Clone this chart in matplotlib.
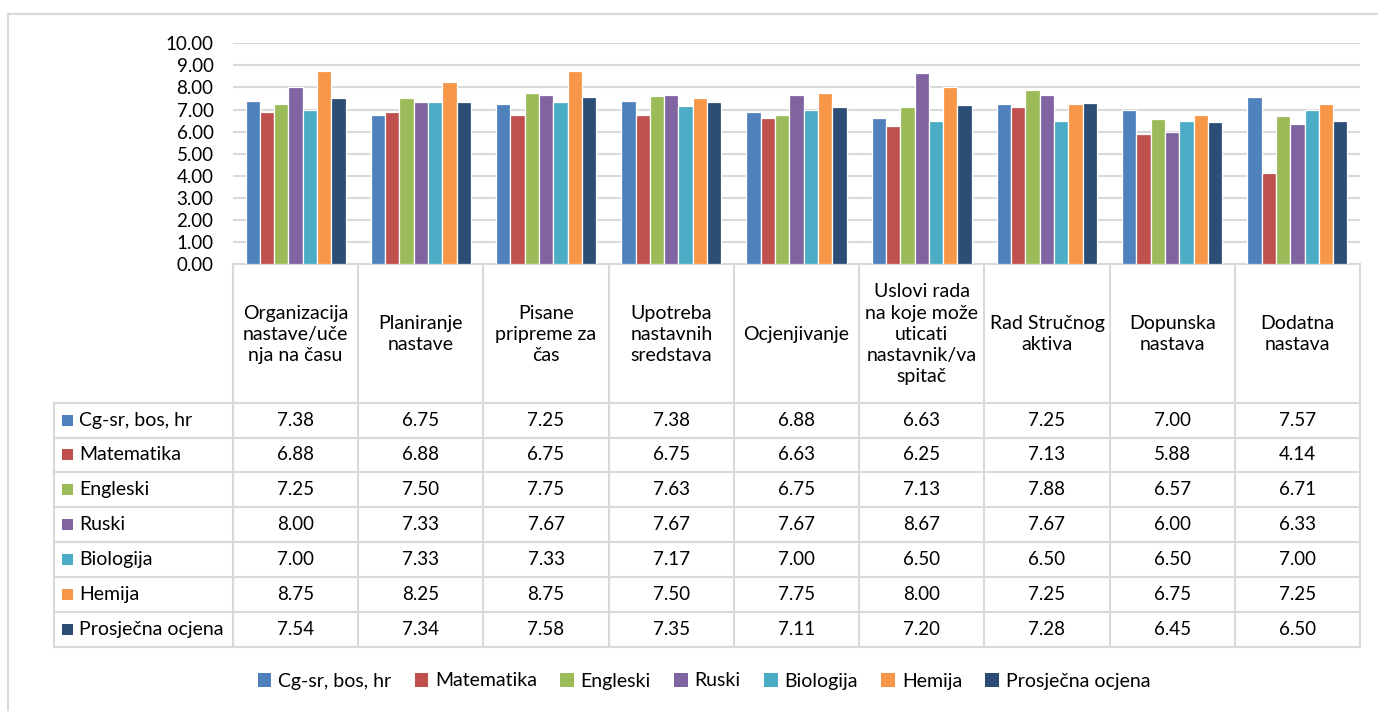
import matplotlib
matplotlib.use("Agg")
import matplotlib.pyplot as plt
import matplotlib.transforms as mtransforms
from matplotlib.patches import Rectangle
from matplotlib.lines import Line2D
import numpy as np

plt.rcParams['font.family'] = ['Lato', 'DejaVu Sans']

categories = [
    "Organizacija\nnastave/uče\nnja na času",
    "Planiranje\nnastave",
    "Pisane\npripreme za\nčas",
    "Upotreba\nnastavnih\nsredstava",
    "Ocjenjivanje",
    "Uslovi rada\nna koje može\nuticati\nnastavnik/va\nspitač",
    "Rad Stručnog\naktiva",
    "Dopunska\nnastava",
    "Dodatna\nnastava",
]
series_names = ["Cg-sr, bos, hr", "Matematika", "Engleski", "Ruski",
                "Biologija", "Hemija", "Prosječna ocjena"]
cg_sr = [7.38, 6.75, 7.25, 7.38, 6.88, 6.63, 7.25, 7.00, 7.57]
matematika = [6.88, 6.88, 6.75, 6.75, 6.63, 6.25, 7.13, 5.88, 4.14]
engleski = [7.25, 7.50, 7.75, 7.63, 6.75, 7.13, 7.88, 6.57, 6.71]
ruski = [8.00, 7.33, 7.67, 7.67, 7.67, 8.67, 7.67, 6.00, 6.33]
biologija = [7.00, 7.33, 7.33, 7.17, 7.00, 6.50, 6.50, 6.50, 7.00]
hemija = [8.75, 8.25, 8.75, 7.50, 7.75, 8.00, 7.25, 6.75, 7.25]
prosjek = [7.54, 7.34, 7.58, 7.35, 7.11, 7.20, 7.28, 6.45, 6.50]
series_values = [cg_sr, matematika, engleski, ruski, biologija, hemija, prosjek]
colors = ["#4F81BD", "#C0504D", "#9BBB59", "#8064A2", "#4BACC6", "#F79646", "#2C4D75"]
y_ticks = [0, 1, 2, 3, 4, 5, 6, 7, 8, 9, 10]

W, H = 1378, 711
fig = plt.figure(figsize=(W / 100, H / 100), dpi=100)
FS = 13.5    # numbers
FT = 14      # text labels
GRID = "#D9D9D9"

# overlay axes in pixel coordinates
ov = fig.add_axes([0, 0, 1, 1])
ov.set_xlim(0, W)
ov.set_ylim(H, 0)
ov.axis("off")

# bar axes
px_l, px_r, px_t, px_b = 233, 1360, 43.3, 264
ax = fig.add_axes([px_l / W, 1 - px_b / H, (px_r - px_l) / W, (px_b - px_t) / H])
n_cat = len(categories)
n_ser = len(series_names)
x = np.arange(n_cat)
bw = 0.8 / n_ser
for i, (vals, col) in enumerate(zip(series_values, colors)):
    ax.bar(x + (i - (n_ser - 1) / 2) * bw, vals, width=bw, color=col,
           edgecolor="white", linewidth=0.9, zorder=3)
ax.set_xlim(-0.5, n_cat - 0.5)
ax.set_ylim(0, 10)
ax.set_yticks(y_ticks)
ax.set_yticklabels([f"{v:.2f}" for v in y_ticks], fontsize=FS, color="#000000")
ax.set_xticks([])
ax.tick_params(axis="y", length=0, pad=14)
ax.grid(axis="y", color=GRID, linewidth=1.5, zorder=0)
for s in ["left", "right", "top"]:
    ax.spines[s].set_visible(False)
ax.spines["bottom"].set_color(GRID)
ax.spines["bottom"].set_linewidth(1.5)

# table
tr = mtransforms.blended_transform_factory(ax.transData, ov.transData)
header_top, header_bot = 264, 402.7
row_h = 34.85
rows_bot = header_bot + row_h * n_ser
tab_left = 54
lc = dict(color=GRID, linewidth=1.5)
for b in np.arange(-0.5, n_cat, 1.0):
    ov.add_line(Line2D([b, b], [header_top, rows_bot], transform=tr, **lc))
ov.add_line(Line2D([tab_left, px_r], [header_bot, header_bot], **lc))
for r in range(1, n_ser + 1):
    yy = header_bot + r * row_h
    ov.add_line(Line2D([tab_left, px_r], [yy, yy], **lc))
ov.add_line(Line2D([tab_left, tab_left], [header_bot, rows_bot], **lc))

for j, cat in enumerate(categories):
    ov.text(j, (header_top + header_bot) / 2 + 1, cat, transform=tr, ha="center",
            va="center", fontsize=FT, linespacing=1.3, multialignment="center")
for i, (name, vals, col) in enumerate(zip(series_names, series_values, colors)):
    yc = header_bot + (i + 0.5) * row_h
    ov.add_patch(Rectangle((62, yc - 5.5), 11, 11, facecolor=col, edgecolor="none"))
    ov.text(79, yc, name, ha="left", va="center", fontsize=FT)
    for j, v in enumerate(vals):
        ov.text(j, yc, f"{v:.2f}", transform=tr, ha="center", va="center", fontsize=FS)

# outer border (left and top visible)
ov.add_line(Line2D([8, 8], [14, H + 5], color=GRID, linewidth=1.5))
ov.add_line(Line2D([8, W + 5], [14, 14], color=GRID, linewidth=1.5))

# legend
handles = [Rectangle((0, 0), 1, 1, facecolor=c, edgecolor="none") for c in colors]
fig.legend(handles, series_names, loc="center", bbox_to_anchor=(704 / W, 1 - 681 / H),
           ncol=n_ser, frameon=False, fontsize=FT, handlelength=0.7, handleheight=0.7,
           handletextpad=0.35, columnspacing=1.2)

fig.savefig("out.png", dpi=100)
